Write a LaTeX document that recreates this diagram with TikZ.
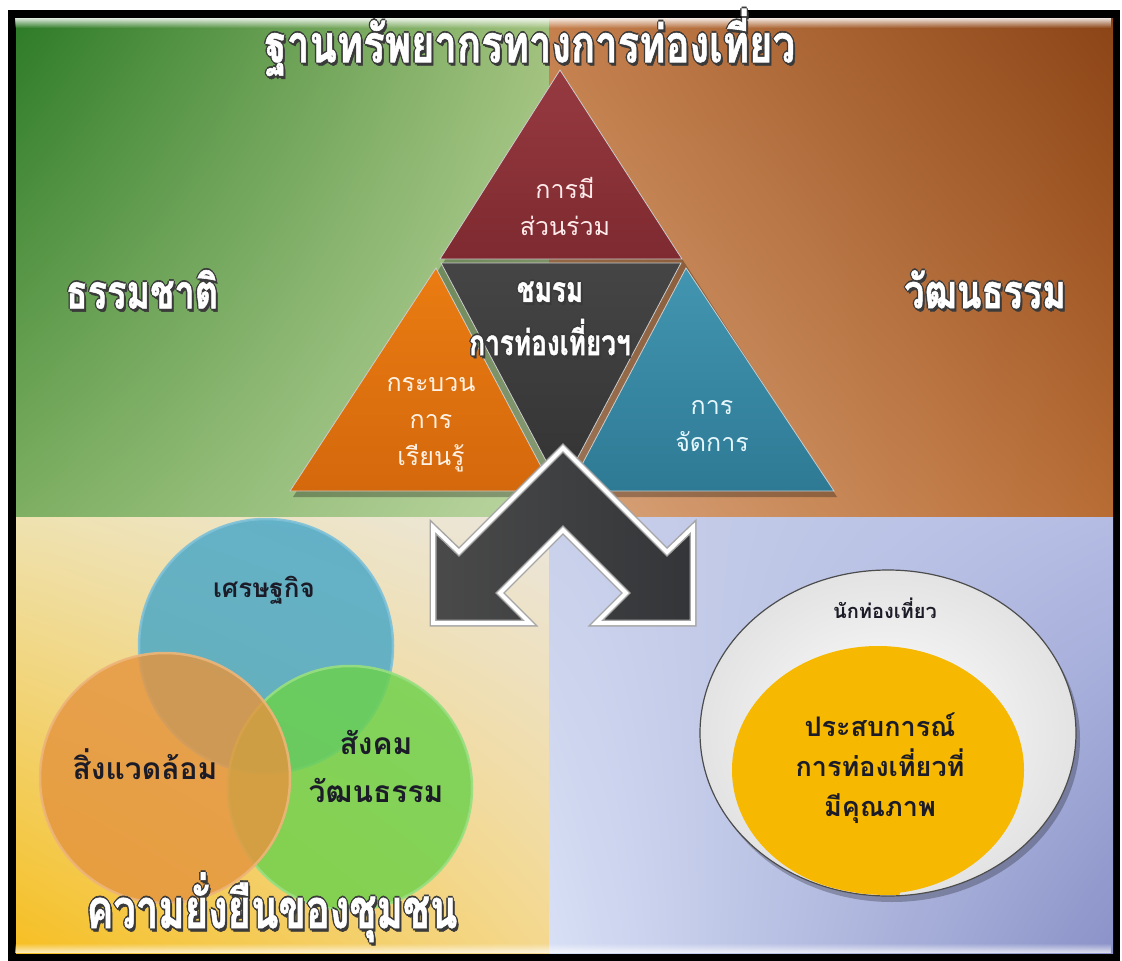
\documentclass[tikz,border=0pt]{standalone}
\usepackage{fontspec}
\usepackage{graphicx}
\newfontfamily\thai[Script=Thai]{Loma}
\usetikzlibrary{shadings,fadings}
\definecolor{olc}{HTML}{3A3A3A}
\definecolor{tlA}{HTML}{2D7B27}\definecolor{tlB}{HTML}{A0C17C}
\definecolor{tlC}{HTML}{7EAF62}\definecolor{tlD}{HTML}{BCD6A2}
\definecolor{trA}{HTML}{C47F4C}\definecolor{trB}{HTML}{8B4416}
\definecolor{trC}{HTML}{D9A57C}\definecolor{trD}{HTML}{B86C34}
\definecolor{blA}{HTML}{EFE2B0}\definecolor{blB}{HTML}{EBE6DC}
\definecolor{blC}{HTML}{F6BF22}\definecolor{blD}{HTML}{F4D88E}
\definecolor{brA}{HTML}{C8D0EA}\definecolor{brB}{HTML}{B4BCE4}
\definecolor{brC}{HTML}{D8E0F6}\definecolor{brD}{HTML}{8A92C8}
\definecolor{redA}{HTML}{963A40}\definecolor{redB}{HTML}{7E2A30}
\definecolor{darkA}{HTML}{454545}\definecolor{darkB}{HTML}{333333}
\definecolor{orgA}{HTML}{EA7C12}\definecolor{orgB}{HTML}{D4680C}
\definecolor{tealA}{HTML}{4295B0}\definecolor{tealB}{HTML}{2E7A95}
\definecolor{arrowA}{HTML}{4A4A4A}\definecolor{arrowB}{HTML}{333538}
\definecolor{vblue}{HTML}{47A7C8}\definecolor{vorange}{HTML}{E5953F}
\definecolor{vgreen}{HTML}{6CD14B}\definecolor{vtext}{HTML}{1C1C28}
\definecolor{yel}{HTML}{F6B800}
\tikzfading[name=fadedown, top color=transparent!0, bottom color=transparent!100]
\tikzfading[name=fadeup, top color=transparent!100, bottom color=transparent!0]
\newcommand\olsh[3]{\makebox[0pt][l]{\hspace*{#1}\raisebox{#2}{\textcolor{olc}{#3}}}}
\newcommand\olt[1]{%
 \olsh{2pt}{-2.4pt}{#1}%
 \olsh{-1.4pt}{0pt}{#1}\olsh{1.4pt}{0pt}{#1}\olsh{0pt}{1.4pt}{#1}\olsh{0pt}{-1.4pt}{#1}%
 \textcolor{white}{#1}}
\newcommand\heavy{\thai\bfseries\addfontfeatures{FakeBold=1.2}}
\tikzset{
 bigtitle/.style={font=\heavy\fontsize{40}{46}\selectfont, inner sep=0pt},
 sidetitle/.style={font=\heavy\fontsize{36}{42}\selectfont, inner sep=0pt},
 centertitle/.style={font=\heavy\fontsize{27}{33}\selectfont, inner sep=0pt, align=center},
 piecelab/.style={font=\thai\fontsize{25}{37}\selectfont, inner sep=0pt, align=center},
 piece/.style={draw=white!60!gray, line width=0.8pt},
 vennlab/.style={font=\thai\bfseries\fontsize{30}{48}\selectfont, text=vtext, align=center, inner sep=0pt},
 venncircle/.style={fill opacity=0.82, draw opacity=0.9, line width=2.5pt},
 ellab/.style={font=\thai\bfseries\fontsize{20}{24}\selectfont, text=vtext, inner sep=0pt},
 yellab/.style={font=\thai\bfseries\fontsize{27}{40}\selectfont, text=vtext, align=center, inner sep=0pt},
}
\begin{document}
\begin{tikzpicture}[x=1pt,y=-1pt]
\useasboundingbox (0,0) rectangle (1122,961);
\fill[white] (0,0) rectangle (1122,961);
\fill[black] (8,10) rectangle (1120,961);
% quadrants
\shade[upper left=tlA, upper right=tlB, lower left=tlC, lower right=tlD] (16,18) rectangle (549,517);
\shade[upper left=trA, upper right=trB, lower left=trC, lower right=trD] (549,18) rectangle (1113,517);
\shade[upper left=blA, upper right=blB, lower left=blC, lower right=blD] (16,517) rectangle (549,953);
\shade[upper left=brA, upper right=brB, lower left=brC, lower right=brD] (549,517) rectangle (1113,953);
\fill[white, opacity=0.85, path fading=fadedown] (16,18) rectangle (1113,28);
\fill[white, opacity=0.75, path fading=fadeup] (16,943) rectangle (1113,953);
% triangle
\coordinate (A) at (560,70);
\coordinate (L) at (290,491);
\coordinate (R) at (834,491);
\coordinate (P1) at (440,259);
\coordinate (P2) at (682,259);
\coordinate (Q1) at (441,263);
\coordinate (Q2) at (681,263);
\coordinate (D) at (561,489);
\coordinate (O1) at (436,268);
\coordinate (O2) at (554,491);
\coordinate (T1) at (686,268);
\coordinate (T2) at (568,491);
\fill[black, opacity=0.28] ([shift={(3,6)}]A) -- ([shift={(3,6)}]L) -- ([shift={(3,6)}]R) -- cycle;
\shade[piece, top color=redA, bottom color=redB] (A) -- (P1) -- (P2) -- cycle;
\shade[piece, top color=darkA, bottom color=darkB] (Q1) -- (Q2) -- (D) -- cycle;
\shade[piece, top color=orgA, bottom color=orgB] (O1) -- (L) -- (O2) -- cycle;
\shade[piece, top color=tealA, bottom color=tealB] (T1) -- (T2) -- (R) -- cycle;
\node[piecelab, text=red!8!white] (red) at (565,206) {การมี\\ส่วนร่วม};
\node[centertitle] (club) at (550,319) {\scalebox{0.97}[1.3]{\olt{ชมรม}}\\[11pt]\scalebox{0.97}[1.3]{\olt{การท่องเที่ยวฯ}}};
\node[piecelab, text=orange!10!white] (learn) at (431,425) {กระบวน\\การ\\เรียนรู้};
\node[piecelab, text=cyan!10!white] (manage) at (712,426) {การ\\จัดการ};
% titles
\node[bigtitle] (title) at (530,43) {\scalebox{1}[1.3]{\olt{ฐานทรัพยากรทางการท่องเที่ยว}}};
\node[sidetitle] (nature) at (142,290) {\scalebox{1}[1.3]{\olt{ธรรมชาติ}}};
\node[sidetitle] (culture) at (985,290) {\scalebox{1}[1.3]{\olt{วัฒนธรรม}}};
% double arrow
\coordinate (AO) at (563,448);
\coordinate (AI) at (563,530);
\coordinate (l1) at (459,552);
\coordinate (l2) at (433,527);
\coordinate (l3) at (433,623);
\coordinate (l4) at (530,623);
\coordinate (l5) at (500,593);
\coordinate (r1) at (667,552);
\coordinate (r2) at (693,527);
\coordinate (r3) at (693,623);
\coordinate (r4) at (596,623);
\coordinate (r5) at (626,593);
\shade[left color=arrowA, right color=arrowB] (AO) -- (l1) -- (l2) -- (l3) -- (l4) -- (l5) -- (AI) -- (r5) -- (r4) -- (r3) -- (r2) -- (r1) -- cycle;
\draw[line width=7pt, color=gray!70, line join=miter] (AO) -- (l1) -- (l2) -- (l3) -- (l4) -- (l5) -- (AI) -- (r5) -- (r4) -- (r3) -- (r2) -- (r1) -- cycle;
\draw[line width=4pt, color=white, line join=miter] (AO) -- (l1) -- (l2) -- (l3) -- (l4) -- (l5) -- (AI) -- (r5) -- (r4) -- (r3) -- (r2) -- (r1) -- cycle;
% venn
\fill[venncircle, fill=vblue, draw=vblue!70!white] (266,646) circle[radius=127];
\fill[venncircle, fill=vgreen, draw=vgreen!70!white] (350,788) circle[radius=122];
\fill[venncircle, fill=vorange, draw=vorange!70!white] (165,778) circle[radius=125];
\node[vennlab, font=\thai\bfseries\fontsize{26}{30}\selectfont] (eco) at (264,590) {เศรษฐกิจ};
\node[vennlab] (env) at (145,764) {สิ่งแวดล้อม};
\node[vennlab] (soc) at (376,766) {สังคม\\วัฒนธรรม};
\node[bigtitle] (sustain) at (272,908) {\scalebox{1}[1.35]{\olt{ความยั่งยืนของชุมชน}}};
% ellipse
\fill[black, opacity=0.25] (892,739) ellipse[x radius=188, y radius=163];
\shade[inner color=white, outer color=gray!22, draw=gray!60!black, line width=1.2pt] (888,733) ellipse[x radius=188, y radius=163];
\begin{scope}
\clip (888,733) ellipse[x radius=187, y radius=162];
\fill[yel] (878,770) ellipse[x radius=146, y radius=124];
\fill[yel] (856,870) rectangle (900,900);
\end{scope}
\node[ellab] (tourist) at (885,608) {นักท่องเที่ยว};
\node[yellab] (exp) at (880,768) {ประสบการณ์\\การท่องเที่ยวที่\\มีคุณภาพ};
\end{tikzpicture}
\end{document}
